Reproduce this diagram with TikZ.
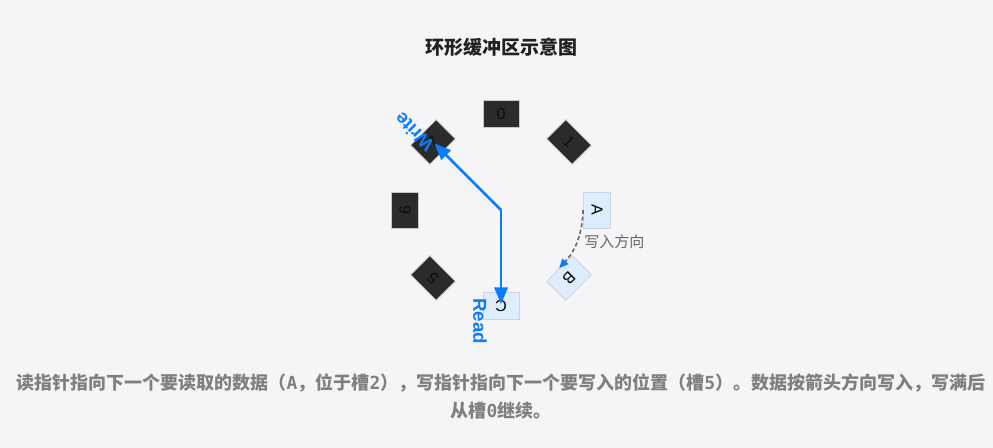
\documentclass[tikz,border=0pt]{standalone}
\usepackage{fontspec}
\setmainfont{Liberation Sans}
\setmonofont{DejaVu Sans Mono}
\newfontfamily\cjk{Noto Sans CJK SC}
\usetikzlibrary{arrows.meta}

\definecolor{pagebg}{HTML}{F5F5F7}
\definecolor{slotdark}{HTML}{2B2B2B}
\definecolor{slotline}{HTML}{C8C8C8}
\definecolor{slotfill}{HTML}{DEEDFD}
\definecolor{slotfillline}{HTML}{C9D5E3}
\definecolor{ptrblue}{HTML}{0A7CFF}
\definecolor{flowgray}{HTML}{666666}
\definecolor{capgray}{HTML}{808080}

\begin{document}
\begin{tikzpicture}[x=0.75pt, y=-0.75pt,
    slotempty/.style={rectangle, draw=slotline, fill=slotdark, line width=0.6pt, minimum width=27pt, minimum height=20.25pt, inner sep=0pt, font=\fontsize{12}{14}\selectfont, text=black!95},
    slotfull/.style={rectangle, draw=slotfillline, fill=slotfill, line width=0.6pt, minimum width=27pt, minimum height=20.25pt, inner sep=0pt, font=\fontsize{12}{14}\selectfont, text=black},
    ptr/.style={-{Triangle[length=12.5pt, width=10pt]}, line width=1.9pt, ptrblue, shorten >=1.5pt},
    ptrlabel/.style={font=\bfseries\fontsize{14}{16}\selectfont, text=ptrblue, inner sep=0pt},
    flow/.style={-{Triangle[length=7pt, width=6pt, color=ptrblue]}, line width=1.2pt, flowgray, dash pattern=on 3pt off 2pt},
    flowlabel/.style={font=\cjk\fontsize{11.25}{13}\selectfont, text=flowgray, inner sep=0pt},
    title/.style={font=\cjk\bfseries\fontsize{14.25}{17}\selectfont, text=black!87},
    caption/.style={font=\cjk\bfseries\fontsize{13.5}{21}\selectfont, text=capgray, align=center}
]
    \fill[pagebg] (0,0) rectangle (993,448);
    \useasboundingbox (0,0) rectangle (993,448);

    \node[title] (ttl) at (501,47) {环形缓冲区示意图};

    % ring of slots, clockwise from the top
    \coordinate (ctr) at (501,210);
    \node[slotempty]             (slot0) at (501,114) {0};
    \node[slotempty, rotate=-45]  (slot1) at (569,142) {1};
    \node[slotfull,  rotate=-90]  (slot2) at (597,210) {A};
    \node[slotfull,  rotate=-135] (slot3) at (569,278) {B};
    \node[slotfull,  rotate=-180] (slot4) at (501,306) {C};
    \node[slotempty, rotate=-225] (slot5) at (433,278) {5};
    \node[slotempty, rotate=-270] (slot6) at (405,210) {6};
    \node[slotempty, rotate=-315] (slot7) at (433,142) {7};

    % write direction
    \draw[flow] (slot2.south) to[bend left=20] (slot3.south);
    \node[flowlabel, anchor=west] (dirlbl) at (584,242) {写入方向};

    % pointers
    \draw[ptr] (ctr) -- (slot4.center);
    \draw[ptr] (ctr) -- (slot7.center);
    \node[ptrlabel, rotate=-90] (rdlbl) at (480,321) {Read};
    \node[ptrlabel, rotate=135] (wrlbl) at (414,132) {Write};

    \node[caption] (cap) at (501,397) {读指针指向下一个要读取的数据（\texttt{A}，位于槽\texttt{2}），写指针指向下一个要写入的位置（槽\texttt{5}）。数据按箭头方向写入，写满后\\从槽\texttt{0}继续。};
\end{tikzpicture}
\end{document}
